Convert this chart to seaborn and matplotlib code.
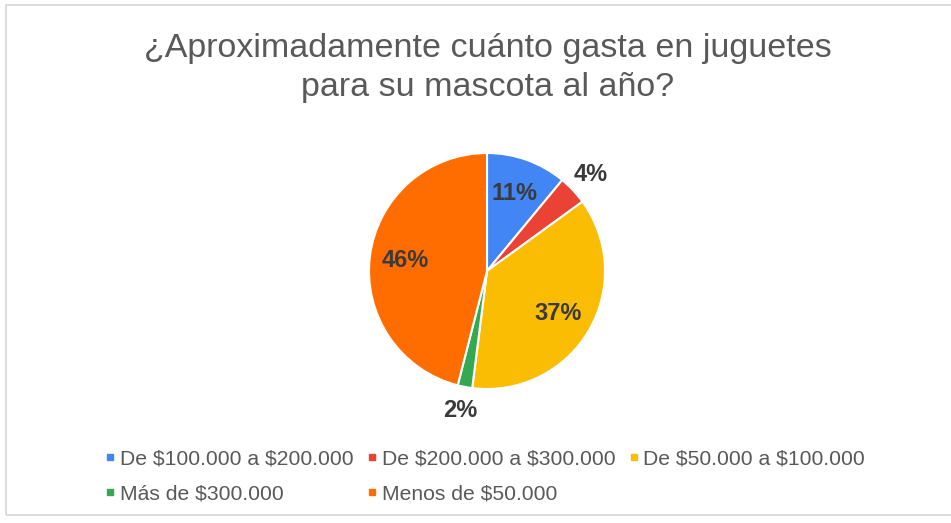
import matplotlib
matplotlib.use("Agg")
import numpy as np
import matplotlib.pyplot as plt
from matplotlib.lines import Line2D
from matplotlib.patches import Rectangle
import seaborn as sns

# Spending on pet toys per year
categories = [
    "De $100.000 a $200.000",
    "De $200.000 a $300.000",
    "De $50.000 a $100.000",
    "Más de $300.000",
    "Menos de $50.000",
]
shares = [11, 4, 37, 2, 46]
slice_colors = ["#4285F4", "#EA4335", "#FBBC04", "#34A853", "#FF6D01"]
title_text = "¿Aproximadamente cuánto gasta en juguetes\npara su mascota al año?"

sns.set_theme(style="white")
plt.rcParams["font.family"] = ["Liberation Sans", "DejaVu Sans"]
plt.rcParams["text.parse_math"] = False
palette = sns.color_palette(slice_colors)

W, H = 951, 523
fig = plt.figure(figsize=(W / 100, H / 100), dpi=100)
fig.patch.set_facecolor("white")

# light frame around the chart area
fig.add_artist(Rectangle((6 / W, 1 - 515 / H), (W + 10) / W, (515 - 5) / H,
                         transform=fig.transFigure, fill=False,
                         edgecolor="#d6d6d6", linewidth=1.2))

# pie axes: centre (487, 271) px, radius 118 px
cx, cy, r = 487, 271, 118
ax = fig.add_axes([(cx - r) / W, (H - cy - r) / H, 2 * r / W, 2 * r / H])
wedges, texts, autotexts = ax.pie(
    shares, colors=palette, startangle=90, counterclock=False,
    wedgeprops=dict(edgecolor="white", linewidth=1.5),
    autopct=lambda p: f"{p:.0f}%", pctdistance=0.7,
    textprops=dict(fontsize=17, fontweight="bold", color="#3a3a3a"),
)
ax.set_xlim(-1, 1)
ax.set_ylim(-1, 1)
ax.set_aspect("equal")
ax.axis("off")

# small slices carry their labels outside the pie
for w, t, v in zip(wedges, autotexts, shares):
    if v < 5:
        ang = np.deg2rad((w.theta1 + w.theta2) / 2)
        t.set_position((1.2 * np.cos(ang), 1.2 * np.sin(ang)))
    t.set_clip_on(False)

fig.text(488 / W, 1 - 68 / H, title_text, ha="center", va="center",
         fontsize=24.5, color="#595959", linespacing=1.33)

# legend filled row by row (three columns)
order = [0, 3, 1, 4, 2]
handles = [Line2D([], [], marker="s", linestyle="none", markersize=5,
                  markerfacecolor=palette[i], markeredgecolor=palette[i])
           for i in order]
labels = [categories[i] for i in order]
fig.legend(handles, labels, ncol=3, loc="upper left",
           bbox_to_anchor=(94.5 / W, 1 - 439 / H), frameon=False,
           fontsize=15.2, handlelength=0.5, handletextpad=0.2,
           columnspacing=0.63, labelspacing=0.75, borderpad=0,
           labelcolor="#595959")

fig.savefig("out.png", dpi=100, facecolor="white")
